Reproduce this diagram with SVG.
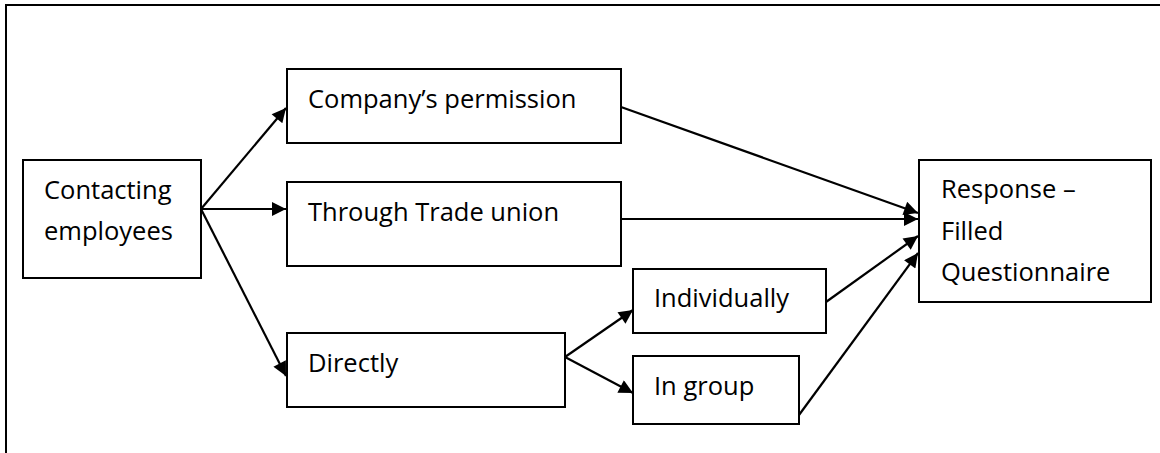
<svg xmlns="http://www.w3.org/2000/svg" width="1160" height="453" viewBox="0 0 1160 453">
  <style>
    .box { fill: #ffffff; stroke: #000000; stroke-width: 2; }
    .lbl { font-family: "Open Sans", "Noto Sans", "Liberation Sans", sans-serif; font-size: 25.5px; fill: #000000; }
    .edge { fill: none; stroke: #000000; stroke-width: 2.2; }
  </style>
  <defs>
    <marker id="arrow" viewBox="0 0 10 10" refX="10" refY="5" markerUnits="userSpaceOnUse" markerWidth="16" markerHeight="14" orient="auto">
      <path d="M0,0 L10,5 L0,10 Z" fill="#000000"/>
    </marker>
  </defs>

  <rect width="1160" height="453" fill="#ffffff"/>
  <!-- page frame -->
  <path d="M6,453 V5 H1160" fill="none" stroke="#000000" stroke-width="2"/>

  <g id="node-contacting">
    <rect class="box" x="23" y="160" width="178" height="118"/>
    <text class="lbl" x="44" y="199">Contacting</text>
    <text class="lbl" x="44" y="240">employees</text>
  </g>

  <g id="node-permission">
    <rect class="box" x="287" y="69" width="334" height="74"/>
    <text class="lbl" x="308" y="108">Company’s permission</text>
  </g>

  <g id="node-union">
    <rect class="box" x="287" y="182" width="334" height="84"/>
    <text class="lbl" x="308" y="221">Through Trade union</text>
  </g>

  <g id="node-directly">
    <rect class="box" x="287" y="333" width="278" height="74"/>
    <text class="lbl" x="308" y="372">Directly</text>
  </g>

  <g id="node-individually">
    <rect class="box" x="633" y="269" width="193" height="64"/>
    <text class="lbl" x="654" y="307">Individually</text>
  </g>

  <g id="node-group">
    <rect class="box" x="633" y="356" width="166" height="68"/>
    <text class="lbl" x="654" y="395">In group</text>
  </g>

  <g id="node-response">
    <rect class="box" x="919" y="160" width="232" height="142"/>
    <text class="lbl" x="941" y="198">Response –</text>
    <text class="lbl" x="941" y="240">Filled</text>
    <text class="lbl" x="941" y="281">Questionnaire</text>
  </g>

  <g id="connectors">
    <line class="edge" x1="201" y1="209" x2="286" y2="108" marker-end="url(#arrow)"/>
    <line class="edge" x1="201" y1="209" x2="286" y2="209" marker-end="url(#arrow)"/>
    <line class="edge" x1="201" y1="209" x2="286" y2="376" marker-end="url(#arrow)"/>
    <line class="edge" x1="621" y1="107" x2="918" y2="213" marker-end="url(#arrow)"/>
    <line class="edge" x1="621" y1="219" x2="918" y2="219" marker-end="url(#arrow)"/>
    <line class="edge" x1="826" y1="302" x2="918" y2="236" marker-end="url(#arrow)"/>
    <line class="edge" x1="799" y1="415" x2="918" y2="253" marker-end="url(#arrow)"/>
    <line class="edge" x1="565" y1="357" x2="633" y2="310" marker-end="url(#arrow)"/>
    <line class="edge" x1="565" y1="357" x2="633" y2="393" marker-end="url(#arrow)"/>
  </g>
</svg>
